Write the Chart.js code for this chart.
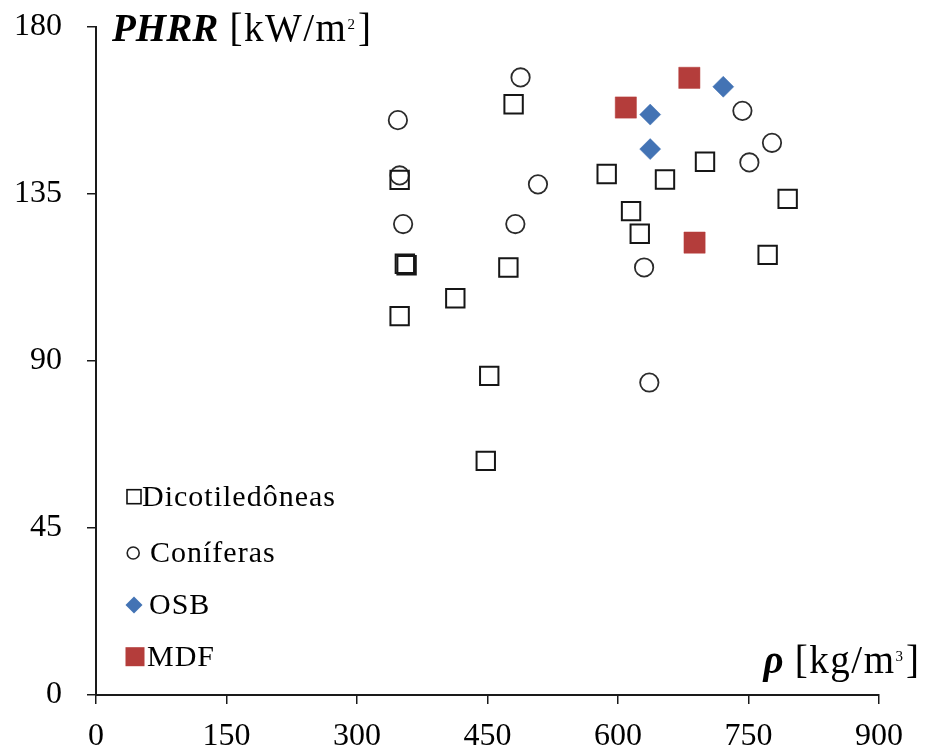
<!DOCTYPE html>
<html>
<head>
<meta charset="utf-8">
<script src="https://cdn.jsdelivr.net/npm/chart.js@4/dist/chart.umd.min.js"></script>
<style>
  html, body { margin: 0; padding: 0; background: #fff; }
  #wrap { width: 925px; height: 756px; }
</style>
</head>
<body>
<div id="wrap"><canvas id="c" width="925" height="756"></canvas></div>
<script>
// Density (kg/m3) and peak heat release rate (kW/m2) per wood group
const dicotDensity = [480, 349, 355, 357, 474, 413, 349, 452, 448, 700, 587, 654, 795, 615, 625, 772];
const dicotPHRR    = [159.2, 138.8, 116.2, 115.8, 115.2, 106.9, 102.1, 86.0, 63.1, 143.7, 140.4, 138.9, 133.7, 130.4, 124.3, 118.6];

const coniferDensity = [488, 347, 349, 508, 353, 482, 743, 777, 751, 630, 636];
const coniferPHRR    = [166.4, 154.9, 140.0, 137.6, 126.9, 126.9, 157.4, 148.8, 143.5, 115.2, 84.2];

const osbDensity = [721, 637, 637];
const osbPHRR    = [163.9, 156.4, 147.1];

const mdfDensity = [682, 609, 688];
const mdfPHRR    = [166.3, 158.3, 121.9];

const seriesNames = ['Dicotiledôneas', 'Coníferas', 'OSB', 'MDF'];
const xTicks = [0, 150, 300, 450, 600, 750, 900];
const yTicks = [0, 45, 90, 135, 180];

const SERIF = '"Liberation Serif", "Times New Roman", serif';
const OSB_BLUE = '#4373b4';
const MDF_RED = '#b43d3b';

function pts(xs, ys) { return xs.map((x, i) => ({ x: x, y: ys[i] })); }

// Draws a run of [text, font, spacing, rise] parts; returns the end x
function drawRuns(ctx, parts, x, y, draw) {
  parts.forEach(p => {
    ctx.font = p[1];
    ctx.letterSpacing = p[2];
    if (draw) ctx.fillText(p[0], x, y - (p[3] || 0));
    x += ctx.measureText(p[0]).width;
  });
  return x;
}

// Axis titles (italic-bold symbol + regular unit with superscript) and the in-plot legend
const decorations = {
  id: 'decorations',
  afterDraw(chart) {
    const ctx = chart.ctx;
    ctx.save();
    ctx.fillStyle = '#000';
    ctx.textBaseline = 'alphabetic';
    ctx.textAlign = 'left';

    const sym = 'italic bold 39px ' + SERIF;
    const reg = '39px ' + SERIF;
    const sup = '15px ' + SERIF;

    // y-axis title
    const yTitle = [
      ['PHRR', sym, '0px'],
      [' [kW/m', reg, '1.5px'],
      ['2', sup, '3px', 12],
      [']', reg, '0px']
    ];
    drawRuns(ctx, yTitle, 112, 41, true);

    // x-axis title, right-aligned at the end of the axis
    const xTitle = [
      ['ρ', sym, '0px'],
      [' [kg/m', reg, '1.5px'],
      ['3', sup, '3px', 12],
      [']', reg, '0px']
    ];
    const xw = drawRuns(ctx, xTitle, 0, 0, false);
    drawRuns(ctx, xTitle, 919 - xw, 673, true);

    // legend
    const rows = [496.7, 553, 605, 656.7];
    ctx.lineWidth = 1.6;
    ctx.strokeStyle = '#111';
    ctx.strokeRect(127, rows[0] - 7, 14, 14);
    ctx.beginPath();
    ctx.arc(133.2, rows[1], 6, 0, Math.PI * 2);
    ctx.strokeStyle = '#222';
    ctx.stroke();
    ctx.beginPath();
    ctx.moveTo(134, rows[2] - 8.5);
    ctx.lineTo(142.5, rows[2]);
    ctx.lineTo(134, rows[2] + 8.5);
    ctx.lineTo(125.5, rows[2]);
    ctx.closePath();
    ctx.fillStyle = OSB_BLUE;
    ctx.fill();
    ctx.fillStyle = MDF_RED;
    ctx.fillRect(125.5, rows[3] - 9.5, 19, 19);

    ctx.font = '30px ' + SERIF;
    ctx.letterSpacing = '1px';
    ctx.textBaseline = 'middle';
    ctx.fillStyle = '#000';
    const textX = [142, 150, 149, 147];
    seriesNames.forEach((name, i) => ctx.fillText(name, textX[i], rows[i] + 1));
    ctx.restore();
  }
};

new Chart(document.getElementById('c'), {
  type: 'scatter',
  data: {
    datasets: [
      {
        label: seriesNames[0],
        data: pts(dicotDensity, dicotPHRR),
        pointStyle: 'rect',
        pointRadius: 13,
        pointBorderWidth: 2,
        borderColor: '#161616',
        backgroundColor: 'rgba(0,0,0,0)'
      },
      {
        label: seriesNames[1],
        data: pts(coniferDensity, coniferPHRR),
        pointStyle: 'circle',
        pointRadius: 9.2,
        pointBorderWidth: 1.8,
        borderColor: '#2b2b2b',
        backgroundColor: 'rgba(0,0,0,0)'
      },
      {
        label: seriesNames[2],
        data: pts(osbDensity, osbPHRR),
        pointStyle: 'rectRot',
        pointRadius: 10.5,
        pointBorderWidth: 0.5,
        borderColor: OSB_BLUE,
        backgroundColor: OSB_BLUE
      },
      {
        label: seriesNames[3],
        data: pts(mdfDensity, mdfPHRR),
        pointStyle: 'rect',
        pointRadius: 15,
        pointBorderWidth: 0.5,
        borderColor: MDF_RED,
        backgroundColor: MDF_RED
      }
    ]
  },
  options: {
    responsive: false,
    animation: false,
    layout: { padding: { top: 27, right: 46, left: 0, bottom: 0 } },
    plugins: {
      legend: { display: false },
      tooltip: { enabled: false }
    },
    scales: {
      x: {
        type: 'linear',
        min: 0,
        max: 900,
        afterFit(scale) { scale.height = 61; },
        afterBuildTicks(scale) { scale.ticks = xTicks.map(v => ({ value: v })); },
        border: { display: true, color: '#1a1a1a', width: 2 },
        grid: { display: true, drawOnChartArea: false, drawTicks: true, tickLength: 9, color: '#1a1a1a', lineWidth: 1.5 },
        ticks: {
          color: '#000',
          padding: 13,
          maxRotation: 0,
          font: { family: SERIF, size: 32 }
        }
      },
      y: {
        type: 'linear',
        min: 0,
        max: 180,
        afterFit(scale) {
          scale.width = 96;
          scale.paddingTop = 0;
          scale.paddingBottom = 0;
        },
        afterBuildTicks(scale) { scale.ticks = yTicks.map(v => ({ value: v })); },
        border: { display: true, color: '#1a1a1a', width: 2 },
        grid: { display: true, drawOnChartArea: false, drawTicks: true, tickLength: 9, color: '#1a1a1a', lineWidth: 1.5 },
        ticks: {
          color: '#000',
          padding: 25,
          font: { family: SERIF, size: 32 }
        }
      }
    }
  },
  plugins: [decorations]
});
</script>
</body>
</html>
